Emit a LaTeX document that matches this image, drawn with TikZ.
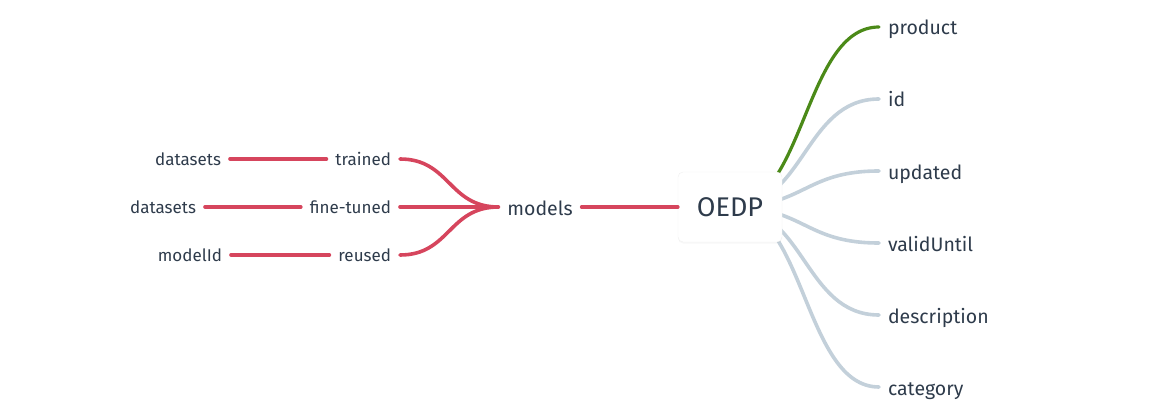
\documentclass[tikz,border=0pt]{standalone}
\usepackage{fontspec}
\setmainfont{Fira Sans}
\usetikzlibrary{positioning,shadows}
\definecolor{inkc}{HTML}{2E3B4B}
\definecolor{redc}{HTML}{D6455D}
\definecolor{grayc}{HTML}{C3D0DA}
\definecolor{greenc}{HTML}{4B8A18}

\begin{document}
\begin{tikzpicture}[x=1pt,y=-1pt,
  lbl/.style={text=inkc,inner sep=0pt,outer xsep=9pt},
  small/.style={lbl,font=\fontsize{17}{20}\selectfont,text height=12pt,text depth=0pt},
  big/.style={lbl,font=\fontsize{19.5}{24}\selectfont,text height=16pt,text depth=0pt},
  redline/.style={draw=redc,line width=3.6pt,line cap=round},
  grayline/.style={draw=grayc,line width=3.6pt,line cap=round},
  greenline/.style={draw=greenc,line width=3.2pt,line cap=round}]
\useasboundingbox (0,0) rectangle (1173,417);

% left branch
\node[small,anchor=east] (trained) at (400,159) {trained};
\node[small,anchor=east] (finetuned) at (400,207) {fine-tuned};
\node[small,anchor=east] (reused) at (400,255) {reused};
\node[small,anchor=east] (dsa) at (230,159) {datasets};
\node[small,anchor=east] (dsb) at (205,207) {datasets};
\node[small,anchor=east] (modelid) at (231,255) {modelId};
\node[big] (models) at (540,207) {models};

\draw[redline] (dsa) -- (trained);
\draw[redline] (dsb) -- (finetuned);
\draw[redline] (modelid) -- (reused);
\draw[redline] (trained.east) .. controls +(50,0) and +(-50,0) .. (models.west);
\draw[redline] (finetuned) -- (models);
\draw[redline] (reused.east) .. controls +(50,0) and +(-50,0) .. (models.west);

% right branch
\node[big,anchor=west] (product) at (879,27) {product};
\node[big,anchor=west] (id) at (879,99) {id};
\node[big,anchor=west] (updated) at (879,171) {updated};
\node[big,anchor=west] (validuntil) at (879,243) {validUntil};
\node[big,anchor=west] (description) at (879,315) {description};
\node[big,anchor=west] (category) at (879,387) {category};

\coordinate (hub) at (730,207);
\draw[greenline] (hub) .. controls +(75,0) and +(-75,0) .. (product.west);
\foreach \leaf in {id,updated,validuntil,description,category}
  \draw[grayline] (hub) .. controls +(75,0) and +(-75,0) .. (\leaf.west);

\node[draw=black!6,fill=white,rounded corners=5pt,minimum width=104pt,minimum height=70pt,
  drop shadow={opacity=0.06,shadow xshift=0pt,shadow yshift=-1.5pt},
  text=inkc,font=\fontsize{27}{32}\selectfont] (oedp) at (hub) {OEDP};
\draw[redline] (models) -- (oedp);
\end{tikzpicture}
\end{document}
